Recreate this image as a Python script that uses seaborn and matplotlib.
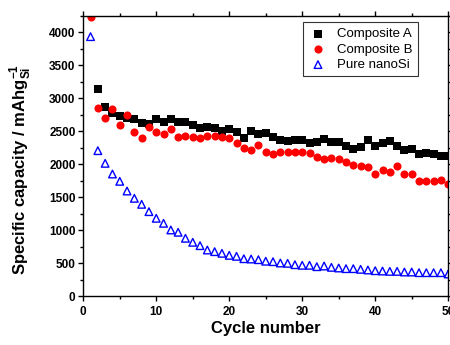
import matplotlib
matplotlib.use("Agg")
import matplotlib.pyplot as plt
from matplotlib.ticker import MultipleLocator
import seaborn as sns
import pandas as pd
import numpy as np

# cycle numbers
cycles_a = list(range(2, 51))
cycles_b = list(range(1, 51))
cycles_si = list(range(1, 51))

# Composite A (cycles 2-50)
cap_a = [3136, 2863, 2772, 2736, 2706, 2681, 2630, 2610, 2681, 2636,
         2686, 2636, 2636, 2595, 2554, 2565, 2549, 2504, 2529, 2484,
         2402, 2499, 2453, 2480, 2408, 2367, 2357, 2362, 2367, 2327,
         2342, 2382, 2337, 2342, 2271, 2231, 2266, 2367, 2281, 2317,
         2352, 2281, 2215, 2236, 2160, 2175, 2160, 2119, 2124]

# Composite B (cycles 1-50)
cap_b = [4230, 2848, 2706, 2833, 2595, 2747, 2484, 2393, 2569, 2484,
         2458, 2534, 2413, 2428, 2413, 2402, 2428, 2433, 2408, 2402,
         2327, 2241, 2215, 2291, 2185, 2160, 2185, 2185, 2180, 2185,
         2175, 2114, 2084, 2099, 2079, 2028, 1983, 1978, 1953, 1851,
         1907, 1882, 1978, 1851, 1851, 1745, 1740, 1740, 1765, 1700]

# Pure nanoSi (cycles 1-50)
cap_si = [3935, 2205, 2013, 1851, 1740, 1593, 1482, 1391, 1280, 1179,
          1103, 1002, 967, 876, 815, 764, 698, 673, 648, 617,
          602, 566, 561, 551, 528, 521, 501, 496, 475, 466,
          466, 445, 455, 435, 425, 415, 415, 405, 395, 384,
          379, 374, 374, 364, 364, 354, 354, 354, 354, 334]

sns.set_style("ticks")
plt.rcParams["font.family"] = ["Liberation Sans", "DejaVu Sans"]
plt.rcParams["text.color"] = "black"
plt.rcParams["axes.labelcolor"] = "black"
plt.rcParams["axes.edgecolor"] = "black"
plt.rcParams["xtick.color"] = "black"
plt.rcParams["ytick.color"] = "black"

fig, ax = plt.subplots(figsize=(4.5, 3.45), dpi=100)
fig.subplots_adjust(left=0.185, right=0.996, bottom=0.142, top=0.954)

sns.scatterplot(x=cycles_a, y=cap_a, ax=ax, marker="s", color="black",
                s=30, edgecolor="black", linewidth=0, label="Composite A")
sns.scatterplot(x=cycles_b, y=cap_b, ax=ax, marker="o", color="#ff0000",
                s=34, edgecolor="#ff0000", linewidth=0, label="Composite B")
sns.scatterplot(x=cycles_si, y=cap_si, ax=ax, marker="^", facecolor="none",
                edgecolor="#0000ff", s=30, linewidth=1.0, label="Pure nanoSi")

ax.set_xlim(0, 50)
ax.set_ylim(0, 4250)
ax.xaxis.set_major_locator(MultipleLocator(10))
ax.xaxis.set_minor_locator(MultipleLocator(5))
ax.yaxis.set_major_locator(MultipleLocator(500))
ax.yaxis.set_minor_locator(MultipleLocator(250))

for sp in ax.spines.values():
    sp.set_visible(True)
    sp.set_linewidth(1.0)
ax.tick_params(which="both", direction="out", top=True, right=True,
               labeltop=False, labelright=False, width=1.0)
ax.tick_params(which="major", length=3.5, labelsize=8.5)
ax.tick_params(axis="x", which="major", pad=4)
ax.tick_params(axis="y", which="major", pad=2)
ax.tick_params(which="minor", length=2)
for lab in ax.get_xticklabels() + ax.get_yticklabels():
    lab.set_fontweight("bold")

ax.set_xlabel("Cycle number", fontsize=12, fontweight="bold")
ax.set_ylabel(r"Specific capacity / mAhg$_{\mathregular{Si}}^{\mathregular{-1}}$",
              fontsize=12, fontweight="bold")
ax.xaxis.set_label_coords(0.5, -0.09)
ax.yaxis.set_label_coords(-0.137, 0.45)

leg = ax.legend(loc="upper right", bbox_to_anchor=(0.935, 1.0), fontsize=9.5,
                frameon=True, fancybox=False, borderpad=0.4, handletextpad=0.7,
                labelspacing=0.25, handlelength=1.5)
leg.get_frame().set_edgecolor("black")
leg.get_frame().set_linewidth(0.8)

fig.savefig("out.png", dpi=100)
